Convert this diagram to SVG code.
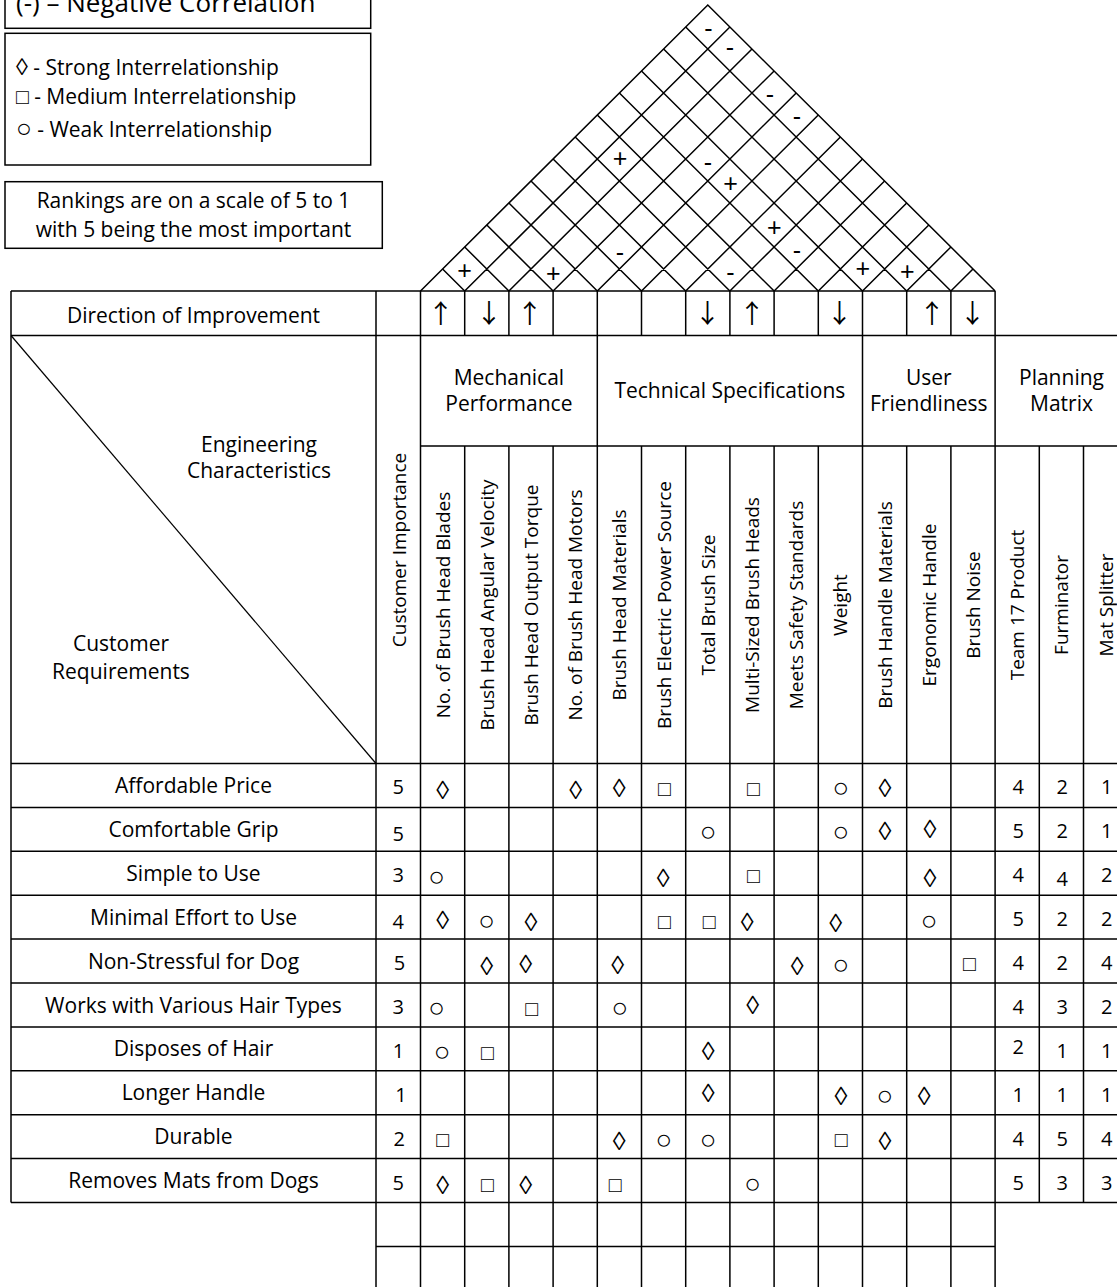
<svg xmlns="http://www.w3.org/2000/svg" width="1117" height="1287" viewBox="0 0 1117 1287">
<style>
.ln{stroke:#000;stroke-width:1.5;fill:none}
.t{font-family:"Open Sans","Liberation Sans",sans-serif;font-size:21px;fill:#000}
.c{text-anchor:middle}
.r{font-size:19px}
.n{font-size:20px}
.big{font-size:26px}
.mk{font-family:"Liberation Sans","DejaVu Sans",sans-serif;font-size:25px;text-anchor:middle;fill:#000}
.d{font-family:"Liberation Sans","DejaVu Sans",sans-serif;font-size:26px;text-anchor:middle;fill:#000}
.q{font-family:"Liberation Sans","DejaVu Sans",sans-serif;font-size:21px;text-anchor:middle;fill:#000}
.o{font-family:"Liberation Sans","DejaVu Sans",sans-serif;font-size:28px;text-anchor:middle;fill:#000}
.ld{font-family:"Liberation Sans","DejaVu Sans",sans-serif;font-size:24px}
.lq{font-family:"Liberation Sans","DejaVu Sans",sans-serif;font-size:21px}
.lo{font-family:"Liberation Sans","DejaVu Sans",sans-serif;font-size:26px}
.ar{font-family:"Noto Sans CJK JP","DejaVu Sans",sans-serif;font-size:26px;text-anchor:middle;fill:#000}
</style>
<rect width="1117" height="1287" fill="#fff"/>

<g id="legend-correlation">
<rect class="ln" x="5" y="-10" width="365.7" height="38.3"/>
<text class="t big" x="16" y="11.5">(-) – Negative Correlation</text>
</g>
<g id="legend-relationship">
<rect class="ln" x="5" y="33.3" width="365.7" height="131.7"/>
<text class="t" x="16" y="75"><tspan class="ld">◊</tspan> - Strong Interrelationship</text>
<text class="t" x="16" y="104"><tspan class="lq">□</tspan> - Medium Interrelationship</text>
<text class="t" x="16" y="137"><tspan class="lo">○</tspan> - Weak Interrelationship</text>
</g>
<g id="legend-rankings">
<rect class="ln" x="5" y="181.7" width="377.3" height="66.6"/>
<text class="t c" x="193.5" y="208.3">Rankings are on a scale of 5 to 1</text>
<text class="t c" x="193.5" y="237">with 5 being the most important</text>
</g>

<g id="roof">
<polyline class="ln" points="420.5,291 707.8,5 995.1,291"/>
<path class="ln" d="M464.7,291L442.6,269M464.7,291L729.9,27
M508.9,291L464.7,247M508.9,291L752,49
M553.1,291L486.8,225M553.1,291L774.1,71
M597.3,291L508.9,203M597.3,291L796.2,93
M641.5,291L531,181M641.5,291L818.3,115
M685.7,291L553.1,159M685.7,291L840.4,137
M729.9,291L575.2,137M729.9,291L862.5,159
M774.1,291L597.3,115M774.1,291L884.6,181
M818.3,291L619.4,93M818.3,291L906.7,203
M862.5,291L641.5,71M862.5,291L928.8,225
M906.7,291L663.6,49M906.7,291L950.9,247
M950.9,291L685.7,27M950.9,291L973,269"/>
<text class="mk" x="708.3" y="36.5">-</text>
<text class="mk" x="730" y="55.7">-</text>
<text class="mk" x="770" y="103">-</text>
<text class="mk" x="797" y="125">-</text>
<text class="mk" x="620" y="167">+</text>
<text class="mk" x="708" y="171">-</text>
<text class="mk" x="730.5" y="192">+</text>
<text class="mk" x="774.3" y="235.5">+</text>
<text class="mk" x="797" y="258.7">-</text>
<text class="mk" x="620" y="261">-</text>
<text class="mk" x="730.5" y="281">-</text>
<text class="mk" x="464.5" y="279">+</text>
<text class="mk" x="553.3" y="282.3">+</text>
<text class="mk" x="862.7" y="277.3">+</text>
<text class="mk" x="907.3" y="280">+</text>
</g>

<g id="grid">
<path class="ln" d="M11,291H995.1M11,335.5H1127.7M420.5,446H1127.7M11,763.5H1127.7
M11,807.4H1127.7M11,851.3H1127.7M11,895.2H1127.7M11,939.1H1127.7M11,983H1127.7
M11,1026.9H1127.7M11,1070.8H1127.7M11,1114.7H1127.7M11,1158.6H1127.7M11,1202.5H1127.7
M376,1246.4H995.1
M11,291V1202.5M376,291V1287M420.5,291V1287
M464.7,291V335.5M508.9,291V335.5M553.1,291V335.5M641.5,291V335.5M685.7,291V335.5M729.9,291V335.5M774.1,291V335.5M818.3,291V335.5M906.7,291V335.5M950.9,291V335.5
M464.7,446V1287M508.9,446V1287M553.1,446V1287M641.5,446V1287M685.7,446V1287M729.9,446V1287M774.1,446V1287M818.3,446V1287M906.7,446V1287M950.9,446V1287
M597.3,291V1287M862.5,291V1287M995.1,291V1287
M1039.3,446V1202.5M1083.5,446V1202.5M1127.7,335.5V1202.5"/>
<line x1="11" y1="335.5" x2="376" y2="763.5" stroke="#000" stroke-width="1.2"/>
</g>

<g id="header">
<text class="t c" x="193.5" y="322.7">Direction of Improvement</text>
<text class="t c" x="259" y="452">Engineering</text>
<text class="t c" x="259" y="478">Characteristics</text>
<text class="t c" x="121" y="650.7">Customer</text>
<text class="t c" x="121" y="679">Requirements</text>
<text class="t c" x="508.9" y="385">Mechanical</text>
<text class="t c" x="508.9" y="411">Performance</text>
<text class="t c" x="729.9" y="398">Technical Specifications</text>
<text class="t c" x="928.8" y="385">User</text>
<text class="t c" x="928.8" y="411">Friendliness</text>
<text class="t c" x="1061.5" y="385">Planning</text>
<text class="t c" x="1061.5" y="411">Matrix</text>
</g>

<g id="direction">
<text class="ar" x="440.7" y="323">↑</text>
<text class="ar" x="489" y="323">↓</text>
<text class="ar" x="529.7" y="323">↑</text>
<text class="ar" x="707.5" y="323">↓</text>
<text class="ar" x="752" y="323">↑</text>
<text class="ar" x="839.5" y="323">↓</text>
<text class="ar" x="932" y="323">↑</text>
<text class="ar" x="972.5" y="323">↓</text>
</g>

<g id="columns">
<text class="t r c" transform="translate(406,550) rotate(-90)">Customer Importance</text>
<text class="t r c" transform="translate(449.6,605) rotate(-90)">No. of Brush Head Blades</text>
<text class="t r c" transform="translate(493.8,605) rotate(-90)">Brush Head Angular Velocity</text>
<text class="t r c" transform="translate(538,605) rotate(-90)">Brush Head Output Torque</text>
<text class="t r c" transform="translate(582.2,605) rotate(-90)">No. of Brush Head Motors</text>
<text class="t r c" transform="translate(626.4,605) rotate(-90)">Brush Head Materials</text>
<text class="t r c" transform="translate(670.6,605) rotate(-90)">Brush Electric Power Source</text>
<text class="t r c" transform="translate(714.8,605) rotate(-90)">Total Brush Size</text>
<text class="t r c" transform="translate(759,605) rotate(-90)">Multi-Sized Brush Heads</text>
<text class="t r c" transform="translate(803.2,605) rotate(-90)">Meets Safety Standards</text>
<text class="t r c" transform="translate(847.4,605) rotate(-90)">Weight</text>
<text class="t r c" transform="translate(891.6,605) rotate(-90)">Brush Handle Materials</text>
<text class="t r c" transform="translate(935.8,605) rotate(-90)">Ergonomic Handle</text>
<text class="t r c" transform="translate(980,605) rotate(-90)">Brush Noise</text>
<text class="t r c" transform="translate(1024.2,605) rotate(-90)">Team 17 Product</text>
<text class="t r c" transform="translate(1068.4,605) rotate(-90)">Furminator</text>
<text class="t r c" transform="translate(1112.6,605) rotate(-90)">Mat Splitter</text>
</g>

<g id="requirements">
<text class="t c" x="193.5" y="793">Affordable Price</text>
<text class="t c" x="193.5" y="836.9">Comfortable Grip</text>
<text class="t c" x="193.5" y="880.8">Simple to Use</text>
<text class="t c" x="193.5" y="924.7">Minimal Effort to Use</text>
<text class="t c" x="193.5" y="968.6">Non-Stressful for Dog</text>
<text class="t c" x="193.5" y="1012.5">Works with Various Hair Types</text>
<text class="t c" x="193.5" y="1056.4">Disposes of Hair</text>
<text class="t c" x="193.5" y="1100.3">Longer Handle</text>
<text class="t c" x="193.5" y="1144.2">Durable</text>
<text class="t c" x="193.5" y="1188.1">Removes Mats from Dogs</text>
</g>

<g id="importance">
<text class="t n c" x="398.2" y="794.3">5</text>
<text class="t n c" x="398.2" y="841">5</text>
<text class="t n c" x="398.2" y="882.3">3</text>
<text class="t n c" x="398.2" y="928.5">4</text>
<text class="t n c" x="399.5" y="970">5</text>
<text class="t n c" x="398.2" y="1014.3">3</text>
<text class="t n c" x="398.5" y="1057.5">1</text>
<text class="t n c" x="401" y="1101.7">1</text>
<text class="t n c" x="399.3" y="1145.7">2</text>
<text class="t n c" x="398.2" y="1190">5</text>
</g>

<g id="relationships">
<text class="d" x="442.7" y="798.8">◊</text>
<text class="d" x="575.7" y="798.8">◊</text>
<text class="d" x="619.3" y="796.7">◊</text>
<text class="q" x="664.3" y="795.7">□</text>
<text class="q" x="753.3" y="796.1">□</text>
<text class="o" x="841" y="796.8">○</text>
<text class="d" x="885" y="796.7">◊</text>

<text class="o" x="708.3" y="841.1">○</text>
<text class="o" x="841" y="841.1">○</text>
<text class="d" x="885" y="840.3">◊</text>
<text class="d" x="930" y="838.3">◊</text>

<text class="o" x="436.7" y="885.5">○</text>
<text class="d" x="663.3" y="887">◊</text>
<text class="q" x="753.3" y="882.7">□</text>
<text class="d" x="930" y="887">◊</text>

<text class="d" x="442.7" y="928.7">◊</text>
<text class="o" x="486.7" y="929.5">○</text>
<text class="d" x="531" y="931.3">◊</text>
<text class="q" x="664.3" y="928.7">□</text>
<text class="q" x="709" y="928.7">□</text>
<text class="d" x="747.3" y="931.3">◊</text>
<text class="d" x="835.7" y="931.7">◊</text>
<text class="o" x="929.3" y="929.5">○</text>

<text class="d" x="486.7" y="975.3">◊</text>
<text class="d" x="525.7" y="972.5">◊</text>
<text class="d" x="617.7" y="973.7">◊</text>
<text class="d" x="797.3" y="975.3">◊</text>
<text class="o" x="841" y="973.5">○</text>
<text class="q" x="969.3" y="971.1">□</text>

<text class="o" x="436.7" y="1016.8">○</text>
<text class="q" x="531.7" y="1016.4">□</text>
<text class="o" x="620" y="1016.8">○</text>
<text class="d" x="752.7" y="1014">◊</text>

<text class="o" x="442.3" y="1061.1">○</text>
<text class="q" x="487.3" y="1060.4">□</text>
<text class="d" x="708.3" y="1060.3">◊</text>

<text class="d" x="708.3" y="1102.3">◊</text>
<text class="d" x="841" y="1105.3">◊</text>
<text class="o" x="885" y="1104.8">○</text>
<text class="d" x="924.3" y="1105.3">◊</text>

<text class="q" x="442.7" y="1146.7">□</text>
<text class="d" x="619.3" y="1150.3">◊</text>
<text class="o" x="664" y="1149.1">○</text>
<text class="o" x="708.3" y="1149.1">○</text>
<text class="q" x="841" y="1146.7">□</text>
<text class="d" x="885" y="1150.3">◊</text>

<text class="d" x="442.7" y="1193.7">◊</text>
<text class="q" x="487.3" y="1192.1">□</text>
<text class="d" x="525.7" y="1193.7">◊</text>
<text class="q" x="615" y="1192.1">□</text>
<text class="o" x="752.7" y="1192.8">○</text>
</g>

<g id="planning">
<text class="t n c" x="1018.3" y="794.3">4</text><text class="t n c" x="1062.3" y="794.3">2</text><text class="t n c" x="1106.7" y="794.3">1</text>
<text class="t n c" x="1018.3" y="837.7">5</text><text class="t n c" x="1062.3" y="837.7">2</text><text class="t n c" x="1106.7" y="837.7">1</text>
<text class="t n c" x="1018.3" y="881.7">4</text><text class="t n c" x="1062.3" y="886">4</text><text class="t n c" x="1106.7" y="881.7">2</text>
<text class="t n c" x="1018.3" y="925.7">5</text><text class="t n c" x="1062.3" y="925.7">2</text><text class="t n c" x="1106.7" y="925.7">2</text>
<text class="t n c" x="1018.3" y="970">4</text><text class="t n c" x="1062.3" y="970">2</text><text class="t n c" x="1106.7" y="970">4</text>
<text class="t n c" x="1018.3" y="1014">4</text><text class="t n c" x="1062.3" y="1014">3</text><text class="t n c" x="1106.7" y="1014">2</text>
<text class="t n c" x="1018.3" y="1054">2</text><text class="t n c" x="1062.3" y="1057.7">1</text><text class="t n c" x="1106.7" y="1057.7">1</text>
<text class="t n c" x="1018.3" y="1101.7">1</text><text class="t n c" x="1062.3" y="1101.7">1</text><text class="t n c" x="1106.7" y="1101.7">1</text>
<text class="t n c" x="1018.3" y="1146">4</text><text class="t n c" x="1062.3" y="1146">5</text><text class="t n c" x="1106.7" y="1146">4</text>
<text class="t n c" x="1018.3" y="1190">5</text><text class="t n c" x="1062.3" y="1190">3</text><text class="t n c" x="1106.7" y="1190">3</text>
</g>
</svg>
